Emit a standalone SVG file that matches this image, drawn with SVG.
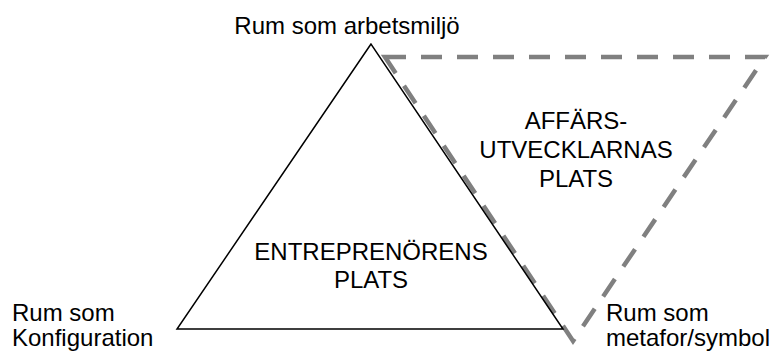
<svg xmlns="http://www.w3.org/2000/svg" width="774" height="352" viewBox="0 0 774 352">
<style>
text{font-family:"Liberation Sans",Arial,sans-serif;font-size:24px;fill:#000}
.c{text-anchor:middle}
.tri{fill:none;stroke:#000;stroke-width:1.5}
.dash{fill:none;stroke:#808080;stroke-width:4.5;stroke-dasharray:21 15}
</style>
<rect width="774" height="352" fill="#fff"/>
<g id="connectors">
<polygon id="dashed-triangle" class="dash" points="385,57 765,57 573,341"/>
</g>
<g id="entreprenorens-plats">
<polygon class="tri" points="371,44 177,329 563,329"/>
<text class="c" x="371" y="260">ENTREPRENÖRENS</text>
<text class="c" x="371" y="288">PLATS</text>
</g>
<g id="affarsutvecklarnas-plats">
<text class="c" x="576" y="129">AFFÄRS-</text>
<text class="c" x="576" y="158">UTVECKLARNAS</text>
<text class="c" x="576" y="187">PLATS</text>
</g>
<g id="arbetsmiljo">
<text class="c" x="347" y="34">Rum som arbetsmiljö</text>
</g>
<g id="konfiguration">
<text x="12" y="321">Rum som</text>
<text x="12" y="346">Konfiguration</text>
</g>
<g id="metafor">
<text x="606" y="321">Rum som</text>
<text x="606" y="346">metafor/symbol</text>
</g>
</svg>
